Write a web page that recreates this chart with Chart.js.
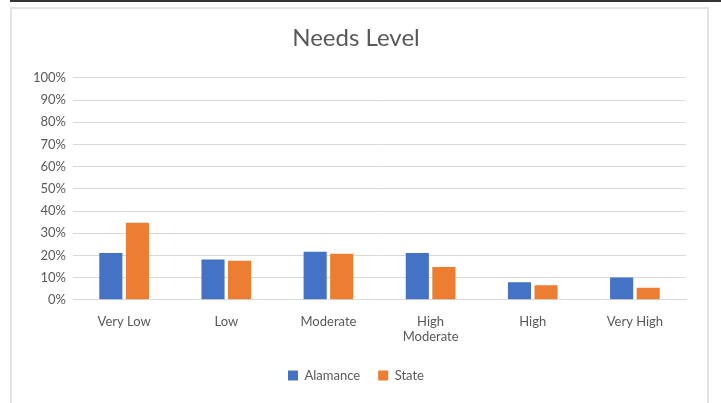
<!DOCTYPE html>
<html>
<head>
<meta charset="utf-8">
<script src="https://cdn.jsdelivr.net/npm/chart.js@4"></script>
<style>
  body { margin: 0; background: #fff; width: 721px; height: 403px; position: relative; overflow: hidden; }
  #topline { position: absolute; left: 10px; top: 0; width: 711px; height: 2px; background: #333; }
  #box { position: absolute; left: 10px; top: 7px; width: 695px; height: 400px; border: 2px solid #e3e3e3; border-bottom: none; }
  #wrap { position: absolute; left: 0; top: 0; width: 695px; height: 394px; }
</style>
</head>
<body>
<div id="topline"></div>
<div id="box">
  <div id="wrap"><canvas id="chartNeeds"></canvas></div>
</div>
<script>
const categories = ['Very Low', 'Low', 'Moderate', ['High', 'Moderate'], 'High', 'Very High'];
const alamance = [0.211, 0.181, 0.217, 0.211, 0.079, 0.100];
const state = [0.347, 0.176, 0.207, 0.148, 0.066, 0.054];

const font = 'Lato, "Liberation Sans", sans-serif';
const textColor = '#595959';

const ctx = document.getElementById('chartNeeds').getContext('2d');
const myChart = new Chart(ctx, {
  type: 'bar',
  data: {
    labels: categories,
    datasets: [
      {
        label: 'Alamance',
        data: alamance,
        backgroundColor: '#4472c4',
        barPercentage: 0.87,
        categoryPercentage: 0.52
      },
      {
        label: 'State',
        data: state,
        backgroundColor: '#ed7d31',
        barPercentage: 0.87,
        categoryPercentage: 0.52
      }
    ]
  },
  options: {
    responsive: true,
    maintainAspectRatio: false,
    animation: false,
    layout: { padding: { left: 14, right: 21, top: 7, bottom: 11 } },
    plugins: {
      title: {
        display: true,
        text: 'Needs Level',
        color: textColor,
        font: { family: font, size: 24, weight: 'normal' },
        padding: { top: 8, bottom: 25 }
      },
      legend: {
        position: 'bottom',
        labels: {
          color: textColor,
          font: { family: font, size: 13 },
          boxWidth: 10,
          boxHeight: 10,
          padding: 18
        }
      },
      tooltip: { enabled: false }
    },
    scales: {
      x: {
        grid: { display: false },
        border: { color: '#d9d9d9' },
        ticks: { color: textColor, font: { family: font, size: 13 }, padding: 6 }
      },
      y: {
        min: 0,
        max: 1,
        grid: { color: '#d9d9d9', drawTicks: false },
        border: { display: false },
        ticks: {
          stepSize: 0.1,
          color: textColor,
          padding: 7,
          font: { family: font, size: 13 },
          callback: v => Math.round(v * 100) + '%'
        }
      }
    }
  }
});
</script>
</body>
</html>
